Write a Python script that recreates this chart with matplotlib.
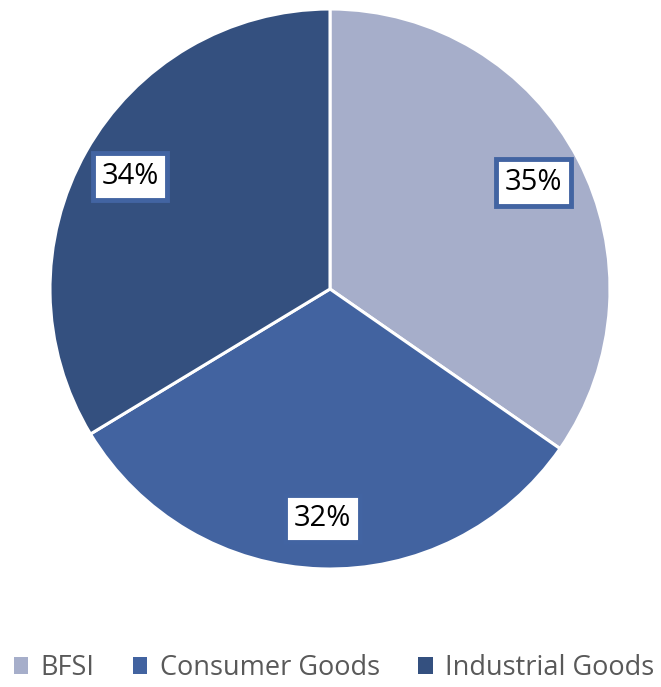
import matplotlib
matplotlib.use("Agg")
import matplotlib.pyplot as plt
from matplotlib.patches import Patch

# sector share of revenue
sectors = ["BFSI", "Consumer Goods", "Industrial Goods"]
shares = [35, 32, 34]
colors = ["#A6AECA", "#4263A0", "#34507F"]
border = "#4264A2"

W, H = 661, 687
fig = plt.figure(figsize=(W / 100, H / 100), dpi=100)

# pie centred at (330, 289) px, radius 280 px
cx, cy, r = 330, 289, 280
ax = fig.add_axes([(cx - r) / W, (H - cy - r) / H, 2 * r / W, 2 * r / H])

wedges, texts = ax.pie(
    shares,
    colors=colors,
    startangle=90,
    counterclock=False,
    labels=[f"{s}%" for s in shares],
    labeldistance=0.82,
    wedgeprops=dict(edgecolor="white", linewidth=2.2),
)
for t in texts:
    t.set_ha("center")
    t.set_va("center")
    t.set_fontsize(21)
    t.set_family("Open Sans")
    t.set_color("black")
    t.set_bbox(dict(boxstyle="square,pad=0.3", facecolor="white",
                    edgecolor=border, linewidth=3.5))
ax.set_xlim(-1, 1)
ax.set_ylim(-1, 1)
ax.set_aspect("equal")
ax.axis("off")

handles = [Patch(facecolor=c, edgecolor="none") for c in colors]
leg = fig.legend(handles, sectors, loc="center", bbox_to_anchor=(0.505, 1 - 668 / H),
                 ncol=3, frameon=False, handlelength=0.55, handleheight=0.55,
                 handletextpad=0.45, columnspacing=1.4,
                 prop=dict(family="Open Sans", size=19.5))
for t in leg.get_texts():
    t.set_color("#595959")

fig.savefig("out.png", dpi=100)
